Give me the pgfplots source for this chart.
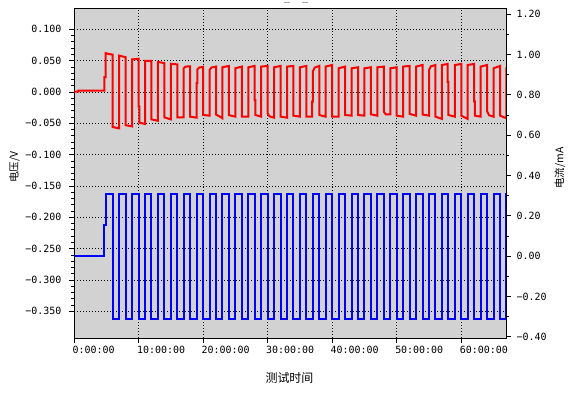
\documentclass[border=0pt]{standalone}
\usepackage{fontspec}
\setmainfont{DejaVu Sans}
\newfontfamily\monofont{DejaVu Sans Mono}
\newfontfamily\cjk{Noto Sans CJK SC}
\usepackage{pgfplots}
\pgfplotsset{compat=1.18}
\definecolor{plotbg}{RGB}{210,210,210}

\begin{document}
\begin{tikzpicture}
\path[use as bounding box] (0,0) rectangle (576bp,409bp);
% voltage, left axis
\begin{axis}[
  at={(74bp,71bp)}, anchor=south west,
  scale only axis, width=432bp, height=330bp,
  xmin=0, xmax=66.93, ymin=-0.3926, ymax=0.134,
  axis background/.style={fill=plotbg},
  axis line style={black, line width=0.8bp},
  tick align=outside, xtick pos=bottom, ytick pos=left,
  major tick length=5bp, minor tick length=3bp,
  tick style={black, line width=0.8bp},
  xtick={0,10,20,30,40,50,60},
  xticklabels={0:00:00,10:00:00,20:00:00,30:00:00,40:00:00,50:00:00,60:00:00},
  ytick={-0.35,-0.3,-0.25,-0.2,-0.15,-0.1,-0.05,0,0.05,0.1},
  yticklabels={−0.350,−0.300,−0.250,−0.200,−0.150,−0.100,−0.050,0.000,0.050,0.100},
  minor y tick num=4,
  grid=major,
  major grid style={black, line width=0.8bp, dash pattern=on 1bp off 2bp},
  ticklabel style={font=\monofont\fontsize{10}{12}\selectfont},
  xticklabel style={anchor=north west, xshift=-5bp},
  yticklabel style={anchor=east, xshift=-4bp},
  xlabel={\cjk 测试时间},
  xlabel style={at={(axis description cs:0.4988,-0.1212)}, anchor=center, font=\fontsize{12}{14}\selectfont},
  ylabel={\cjk 电压/V},
  ylabel style={at={(axis description cs:-0.1377,0.518)}, anchor=center, font=\fontsize{10.5}{12}\selectfont},
]
\addplot[red, line width=2bp] coordinates {
 (0,0.0005) (0.67,0.0005) (0.67,0.002) (4.7,0.002) (4.7,0.0235) (4.9,0.0235) (4.9,0.062) (5.4,0.0605) (6,0.0596)
 (6,-0.056) (7,-0.058)
 (7,0.058) (8,0.0555)
 (8,-0.053) (9,-0.055)
 (9,0.052) (10,0.053)
 (10,-0.0235) (10.12,-0.0235) (10.12,-0.049) (11,-0.051)
 (11,0.0495) (12,0.0495)
 (12,-0.0437) (13,-0.046)
 (13,0.048) (14,0.046)
 (14,-0.0405) (15,-0.0437)
 (15,0.045) (16,0.044)
 (16,-0.0405) (17,-0.0405)
 (17,0.038) (17.3,0.0405) (18,0.041)
 (18,-0.0394) (19,-0.041)
 (19,0.014) (19.1,0.014) (19.1,0.036) (19.4,0.039) (20,0.040)
 (20,-0.0367) (21,-0.0378)
 (21,0.0351) (21.3,0.039) (22,0.0405)
 (22,-0.036) (22.6,-0.0394) (23,-0.042)
 (23,0.0394) (24,0.0415)
 (24,-0.037) (25,-0.0394)
 (25,0.0378) (26,0.0405)
 (26,-0.0394) (27,-0.0394)
 (27,0.0394) (28,0.0415)
 (28,-0.013) (28.1,-0.013) (28.1,-0.0367) (29,-0.0394)
 (29,0.0405) (30,0.0415)
 (30,-0.034) (30.3,-0.039) (31,-0.041)
 (31,0.0394) (32,0.0415)
 (32,-0.0394) (33,-0.041)
 (33,0.0405) (34,0.0415)
 (34,-0.0378) (35,-0.0394)
 (35,0.0394) (36,0.0415)
 (36,-0.0394) (36.9,-0.0394) (36.9,-0.0155) (37,-0.0155)
 (37,0.0325) (37.3,0.039) (38,0.0415)
 (38,-0.0367) (39,-0.0394)
 (39,0.0405) (40,0.0431)
 (40,-0.0394) (41,-0.0394)
 (41,0.0378) (42,0.0405)
 (42,-0.0367) (43,-0.0378)
 (43,0.0378) (44,0.0394)
 (44,-0.0367) (45,-0.0378)
 (45,0.0378) (46,0.0394)
 (46,-0.0357) (47,-0.0378)
 (47,0.0394) (48,0.0405)
 (48,-0.0314) (48.3,-0.0357) (49,-0.0357)
 (49,0.0378) (50,0.0394)
 (50,-0.0378) (51,-0.0394)
 (51,0.0405) (52,0.0415)
 (52,-0.035) (53,-0.0378)
 (53,0.0405) (54,0.043)
 (54,-0.036) (55,-0.0378)
 (55,0.0351) (55.3,0.041) (56,0.043)
 (56,-0.0394) (57,-0.043)
 (57,0.043) (57.9,0.0447) (57.9,0.016) (58,0.016)
 (58,-0.0367) (59,-0.0394)
 (59,0.043) (60,0.0447)
 (60,-0.0378) (61,-0.043)
 (61,0.0431) (62,0.0447)
 (62,-0.015) (62.1,-0.015) (62.1,-0.0378) (63,-0.0394)
 (63,0.0405) (64,0.0431)
 (64,-0.031) (64.3,-0.037) (65,-0.0394)
 (65,0.0378) (66,0.0415)
 (66,-0.0378) (67,-0.042)
 (67,0.038) (67.5,0.040)
};
\end{axis}
% current, right axis
\begin{axis}[
  at={(74bp,71bp)}, anchor=south west,
  scale only axis, width=432bp, height=330bp,
  xmin=0, xmax=66.93, ymin=-0.4065, ymax=1.231,
  axis x line=none, axis y line*=right,
  axis line style={black, line width=0.8bp},
  tick align=outside,
  major tick length=5bp, minor tick length=3bp,
  tick style={black, line width=0.8bp},
  ytick={-0.4,-0.2,0,0.2,0.4,0.6,0.8,1.0,1.2},
  yticklabels={−0.40,−0.20,0.00,0.20,0.40,0.60,0.80,1.00,1.20},
  minor y tick num=1,
  ticklabel style={font=\monofont\fontsize{10}{12}\selectfont},
  yticklabel style={anchor=west, xshift=2bp},
  ylabel={\cjk 电流/mA},
  ylabel style={at={(axis description cs:1.125,0.515)}, anchor=center, rotate=0, font=\fontsize{10.5}{12}\selectfont},
]
\addplot[blue, line width=2bp, const plot] coordinates {
 (0,0) (4.7,0.154) (4.9,0.31) (6,-0.313) (7,0.31) (8,-0.313) (9,0.31) (10,-0.313)
 (11,0.31) (12,-0.313) (13,0.31) (14,-0.313) (15,0.31) (16,-0.313) (17,0.31) (18,-0.313)
 (19,0.31) (20,-0.313) (21,0.31) (22,-0.313) (23,0.31) (24,-0.313) (25,0.31) (26,-0.313)
 (27,0.31) (28,-0.313) (29,0.31) (30,-0.313) (31,0.31) (32,-0.313) (33,0.31) (34,-0.313)
 (35,0.31) (36,-0.313) (37,0.31) (38,-0.313) (39,0.31) (40,-0.313) (41,0.31) (42,-0.313)
 (43,0.31) (44,-0.313) (45,0.31) (46,-0.313) (47,0.31) (48,-0.313) (49,0.31) (50,-0.313)
 (51,0.31) (52,-0.313) (53,0.31) (54,-0.313) (55,0.31) (56,-0.313) (57,0.31) (58,-0.313)
 (59,0.31) (60,-0.313) (61,0.31) (62,-0.313) (63,0.31) (64,-0.313) (65,0.31) (66,-0.313)
 (67,0.31) (68,0.31)
};
\end{axis}
\node[anchor=base west, inner sep=0, font=\monofont\fontsize{10}{12}\selectfont] at (284bp,408.3bp) {\_\hspace{12bp}\_};
\end{tikzpicture}
\end{document}
